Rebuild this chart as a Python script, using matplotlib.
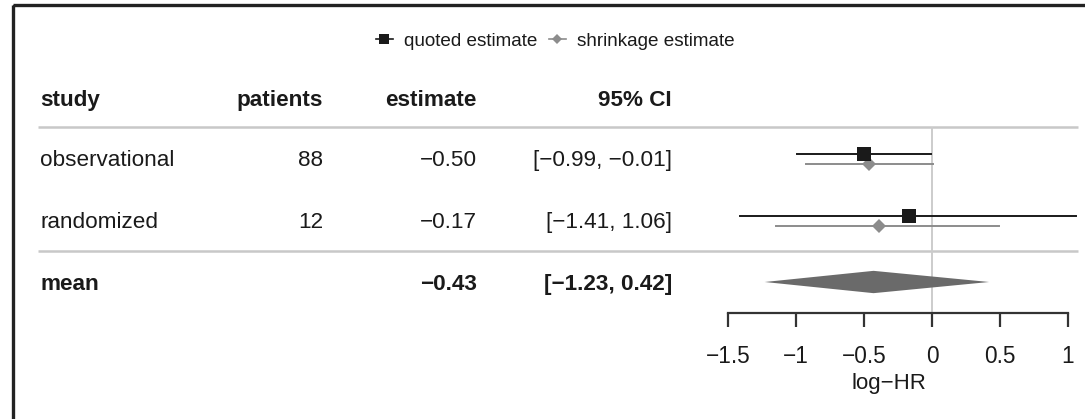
import matplotlib
matplotlib.use("Agg")
import matplotlib.pyplot as plt
from matplotlib.lines import Line2D
from matplotlib.patches import Rectangle, Polygon

plt.rcParams['font.family'] = ['Liberation Sans', 'DejaVu Sans']

# ---- data ----
studies = ["observational", "randomized"]
patients = [88, 12]
quoted_est = [-0.50, -0.17]
quoted_lo = [-0.99, -1.41]
quoted_hi = [-0.01, 1.06]
shrink_est = [-0.46, -0.39]
shrink_lo = [-0.93, -1.15]
shrink_hi = [0.01, 0.49]
mean_est = -0.43
mean_lo = -1.23
mean_hi = 0.42
x_ticks = [-1.5, -1, -0.5, 0, 0.5, 1]
x_tick_labels = ["\u22121.5", "\u22121", "\u22120.5", "0", "0.5", "1"]
headers = ["study", "patients", "estimate", "95% CI"]

W, H = 1085, 419
fig = plt.figure(figsize=(W / 100, H / 100), dpi=100)
fig.patch.set_facecolor("white")

TXT = "#1a1a1a"
FS = 16.2


def fmt(v):
    s = f"{v:.2f}"
    return s.replace("-", "\u2212")


# table layer in pixel coordinates
ax_t = fig.add_axes([0, 0, 1, 1])
ax_t.set_xlim(0, W)
ax_t.set_ylim(H, 0)
ax_t.axis("off")

# outer frame
ax_t.add_patch(Rectangle((12.5, 5.5), W + 20, H + 20, fill=False,
                         edgecolor="#222222", linewidth=2.4))

row_y = [158, 220]
mean_y = 282
header_y = 98
base_off = 8
col_x = [40, 323, 477, 672]

for j, h in enumerate(headers):
    ax_t.text(col_x[j], header_y + base_off, h, ha="left" if j == 0 else "right",
              va="baseline", fontsize=FS, fontweight="bold", color=TXT)

for i, name in enumerate(studies):
    y = row_y[i] + base_off
    ax_t.text(col_x[0], y, name, ha="left", va="baseline", fontsize=FS, color=TXT)
    ax_t.text(col_x[1], y, str(patients[i]), ha="right", va="baseline", fontsize=FS, color=TXT)
    ax_t.text(col_x[2], y, fmt(quoted_est[i]), ha="right", va="baseline", fontsize=FS, color=TXT)
    ax_t.text(col_x[3], y, f"[{fmt(quoted_lo[i])}, {fmt(quoted_hi[i])}]",
              ha="right", va="baseline", fontsize=FS, color=TXT)

y = mean_y + base_off
ax_t.text(col_x[0], y, "mean", ha="left", va="baseline", fontsize=FS, fontweight="bold", color=TXT)
ax_t.text(col_x[2], y, fmt(mean_est), ha="right", va="baseline", fontsize=FS, fontweight="bold", color=TXT)
ax_t.text(col_x[3], y, f"[{fmt(mean_lo)}, {fmt(mean_hi)}]", ha="right", va="baseline",
          fontsize=FS, fontweight="bold", color=TXT)

# separator rules
for sy in (127, 251):
    ax_t.plot([38, 1078], [sy, sy], color="#c8c8c8", linewidth=1.8, solid_capstyle="butt")

# forest panel
left_px, right_px, top_px, bot_px = 700, 1078, 127, 313
ax_f = fig.add_axes([left_px / W, 1 - bot_px / H, (right_px - left_px) / W, (bot_px - top_px) / H])
ax_f.patch.set_alpha(0)
zero_px, unit_px = 932, 136
ax_f.set_xlim((left_px - zero_px) / unit_px, (right_px - zero_px) / unit_px)
ax_f.set_ylim(3.5, 0.5)

ax_f.axvline(0, color="#cccccc", linewidth=1.4, zorder=0)

rows = [1, 2]
q_off, s_off = -0.065, 0.09
for i, r in enumerate(rows):
    ax_f.plot([shrink_lo[i], shrink_hi[i]], [r + s_off] * 2, color="#8c8c8c", linewidth=1.4, zorder=2)
    ax_f.plot(shrink_est[i], r + s_off, marker="D", markersize=7, color="#8c8c8c",
              markeredgewidth=0, zorder=3)
    ax_f.plot([quoted_lo[i], quoted_hi[i]], [r + q_off] * 2, color="#1a1a1a", linewidth=1.4, zorder=4)
    ax_f.plot(quoted_est[i], r + q_off, marker="s", markersize=9.5, color="#1a1a1a",
              markeredgewidth=0, zorder=5)

half_h = 0.18
ax_f.add_patch(Polygon([(mean_lo, 3), (mean_est, 3 - half_h), (mean_hi, 3), (mean_est, 3 + half_h)],
                       closed=True, facecolor="#6a6a6a", edgecolor="none", zorder=3))

for s in ("left", "right", "top"):
    ax_f.spines[s].set_visible(False)
ax_f.spines["bottom"].set_bounds(x_ticks[0], x_ticks[-1])
ax_f.spines["bottom"].set_color("#333333")
ax_f.spines["bottom"].set_linewidth(1.6)
ax_f.set_yticks([])
ax_f.set_xticks(x_ticks)
ax_f.set_xticklabels(x_tick_labels)
ax_f.tick_params(axis="x", direction="out", length=10, width=1.6, color="#333333",
                 pad=13, labelsize=16.3, labelcolor=TXT)
ax_f.set_xlabel("log\u2212HR", fontsize=16, color=TXT, labelpad=4)

# legend
handles = [
    Line2D([], [], color="#1a1a1a", linewidth=1.2, marker="s", markersize=7, markeredgewidth=0),
    Line2D([], [], color="#8c8c8c", linewidth=1.2, marker="D", markersize=5, markeredgewidth=0),
]
fig.legend(handles, ["quoted estimate", "shrinkage estimate"], loc="center",
           bbox_to_anchor=(555 / W, 1 - 41 / H), ncol=2, frameon=False, fontsize=13.6,
           handlelength=0.9, handletextpad=0.6, columnspacing=0.6, labelcolor=TXT)

fig.savefig("out.png", dpi=100, facecolor="white")
